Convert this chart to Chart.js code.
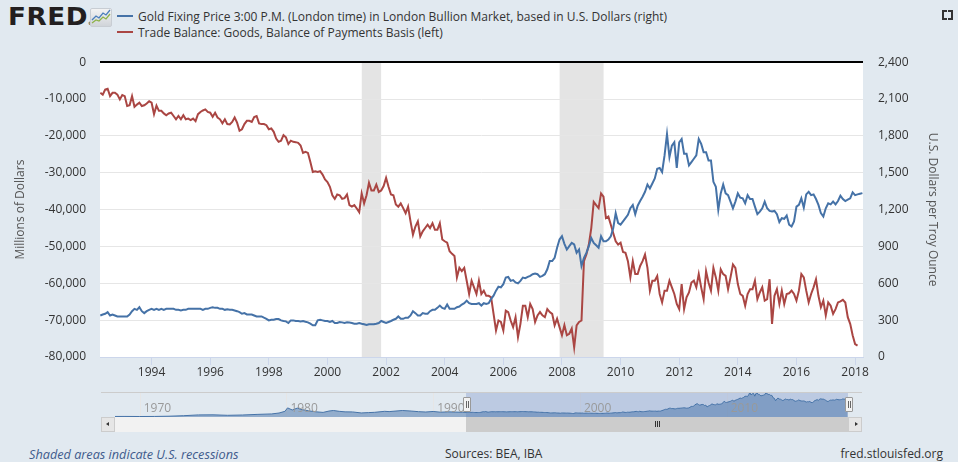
<!DOCTYPE html>
<html>
<head>
<meta charset="utf-8">
<script src="https://cdn.jsdelivr.net/npm/chart.js@4.4.1/dist/chart.umd.min.js"></script>
<style>
  html, body { margin: 0; padding: 0; }
  body {
    width: 958px; height: 462px; position: relative; overflow: hidden;
    background: #e1e9f0; font-family: 'Open Sans', sans-serif; color: #333;
  }
  .abs { position: absolute; }
  #logo {
    left: 8px; top: 1px; font-family: 'DejaVu Sans', sans-serif; font-weight: bold;
    font-size: 25px; line-height: 32px; color: #231f20; letter-spacing: 0.5px;
    transform-origin: left center; transform: scaleX(1.05);
  }
  #logo .reg { font-size: 5px; letter-spacing: 0; vertical-align: baseline; }
  .legend { left: 138px; font-size: 12px; line-height: 16px; white-space: nowrap; color: #333; }
  .swatch { left: 117px; width: 16px; height: 2px; }
  .corner { width: 3px; height: 3px; border: 0 solid #333; }
  .foot { top: 446px; font-size: 12px; line-height: 16px; white-space: nowrap; color: #333; }
  #navLine { left: 101px; top: 392px; width: 761px; height: 1px; background: #cccccc; z-index: 2; }
  .handle {
    top: 397px; width: 8px; height: 15px; box-sizing: border-box;
    background: #f2f2f2; border: 1px solid #999; border-radius: 1px; z-index: 3;
  }
  .handle .grip { top: 3px; width: 1px; height: 7px; background: #666; }
  .sbtn { top: 417px; width: 14px; height: 15px; box-sizing: border-box; background: #e6e6e6; border: 1px solid #cccccc; }
</style>
</head>
<body>
<div id="logo" class="abs">FRED<span class="reg">&reg;</span></div>
<svg class="abs" style="left:90px;top:8px" width="22" height="19" viewBox="0 0 22 19">
  <defs>
    <linearGradient id="ig" x1="0" y1="0" x2="0" y2="1">
      <stop offset="0" stop-color="#f4f4f4"/>
      <stop offset="1" stop-color="#cfd3d8"/>
    </linearGradient>
  </defs>
  <rect x="0.5" y="0.5" width="21" height="18" rx="1.5" fill="url(#ig)" stroke="#c8cdd3"/>
  <polyline points="2,12 6,8 9,10 13,5 16,7 20,2" fill="none" stroke="#4a7ebb" stroke-width="1.3"/>
  <polyline points="2,15 6,12 9,13 13,9 16,11 20,6" fill="none" stroke="#8db24a" stroke-width="1.3"/>
</svg>

<div class="abs swatch" style="top:15px;background:#4572a7"></div>
<div class="abs legend" style="top:9px">Gold Fixing Price 3:00 P.M. (London time) in London Bullion Market, based in U.S. Dollars (right)</div>
<div class="abs swatch" style="top:31px;background:#aa4643"></div>
<div class="abs legend" style="top:25px">Trade Balance: Goods, Balance of Payments Basis (left)</div>

<div class="abs corner" style="left:942px;top:10px;border-top-width:2px;border-left-width:2px"></div>
<div class="abs corner" style="left:948px;top:10px;border-top-width:2px;border-right-width:2px"></div>
<div class="abs corner" style="left:942px;top:15px;border-bottom-width:2px;border-left-width:2px"></div>
<div class="abs corner" style="left:948px;top:15px;border-bottom-width:2px;border-right-width:2px"></div>

<canvas id="main" class="abs" style="left:0;top:40px" width="958" height="345"></canvas>

<div id="navLine" class="abs"></div>
<canvas id="nav" class="abs" style="left:115px;top:392px" width="733" height="25"></canvas>
<div class="abs handle" style="left:463px"><div class="abs grip" style="left:2px"></div><div class="abs grip" style="left:4px"></div></div>
<div class="abs handle" style="left:845px"><div class="abs grip" style="left:2px"></div><div class="abs grip" style="left:4px"></div></div>

<div class="abs" style="left:101px;top:417px;width:761px;height:15px;background:#f2f2f2"></div>
<div class="abs" style="left:466px;top:417px;width:382px;height:15px;background:#cccccc"></div>
<div class="abs" style="left:655px;top:421px;width:1px;height:6px;background:#333"></div>
<div class="abs" style="left:657px;top:421px;width:1px;height:6px;background:#333"></div>
<div class="abs" style="left:659px;top:421px;width:1px;height:6px;background:#333"></div>
<div class="abs sbtn" style="left:101px"></div>
<div class="abs" style="left:106px;top:422px;width:0;height:0;border-top:2.5px solid transparent;border-bottom:2.5px solid transparent;border-right:3px solid #333"></div>
<div class="abs sbtn" style="left:848px"></div>
<div class="abs" style="left:855px;top:422px;width:0;height:0;border-top:2.5px solid transparent;border-bottom:2.5px solid transparent;border-left:3px solid #333"></div>

<div class="abs foot" style="left:29px;font-style:italic;font-size:12.7px;color:#3f5b8c">Shaded areas indicate U.S. recessions</div>
<div class="abs foot" style="left:445px">Sources: BEA, IBA</div>
<div class="abs foot" style="right:15px">fred.stlouisfed.org</div>

<script>
// ---- chart values -----------------------------------------------------------
const viewRange = [1992.24, 2018.27]
const xTickYears = [1994, 1996, 1998, 2000, 2002, 2004, 2006, 2008, 2010, 2012, 2014, 2016, 2018]
const recessions = [[2001.17, 2001.83], [2007.92, 2009.42]]

// monthly, starting April 1992 (millions of dollars)
const tradeStart = 1992 + 3 / 12
const tradeBalance = [
  -8300, -8800, -7400, -7200, -9200, -8300, -8300, -8800, -10100, -8900,
  -9200, -11900, -11700, -9200, -12100, -11500, -11000, -11900, -11700, -11200,
  -10600, -11000, -14100, -11800, -13200, -13200, -13900, -14400, -13900, -13700,
  -14600, -15500, -14600, -15500, -14400, -15500, -15300, -15700, -15300, -16000,
  -14100, -13500, -13100, -12800, -13500, -13700, -14800, -13700, -15000, -15500,
  -16600, -15500, -16800, -16900, -16200, -15000, -16400, -18600, -18200, -16800,
  -15900, -15900, -16200, -14900, -14600, -16600, -16800, -16800, -17100, -18200,
  -18000, -18900, -20700, -21600, -21300, -19800, -20400, -22200, -21300, -21600,
  -21700, -21900, -22600, -24600, -24300, -24600, -27100, -29800, -29600, -29800,
  -29600, -30500, -31800, -32500, -33800, -36100, -37100, -35900, -36100, -37100,
  -36900, -35900, -38800, -39200, -38800, -39700, -40700, -35600, -38300, -36100,
  -32700, -34800, -34800, -33200, -35200, -34800, -33600, -31400, -33800, -35900,
  -36100, -38600, -39200,
  -38300, -39600, -41000, -39200, -43200, -46800, -44600, -43200, -47300, -45900,
  -45000, -44100, -45000, -43700, -45500, -45500, -43700, -48100, -48600, -49000,
  -51300, -52000, -52600, -58400, -55800, -56700, -55800, -59300, -62900, -59300,
  -61100, -62900, -59300, -62900, -62000, -63400, -63400, -63800, -68300, -72800,
  -70100, -70500, -72800, -67400, -67800, -70100, -71900, -69200, -74600, -71000,
  -66100, -66100, -69200, -65600, -67000, -70500, -68700, -67800, -68700, -69200,
  -67000, -67800, -68300, -71400, -69600, -71900, -74100, -71400, -74100, -73700,
  -72300, -77400, -71400, -70500, -70100, -54000, -52200, -49500, -45000, -37900,
  -38800, -39600, -35600, -36500, -42300, -41900, -44100, -46400, -48600, -49500,
  -49000, -51500, -51700, -54000, -58400, -54000, -57500, -57500, -55300, -54000,
  -52200, -55800, -62000,
  -59300, -59300, -58000, -62900, -65200, -62000, -62000, -59300, -61100, -62900,
  -65600, -67000, -60200, -67000, -63800, -62500, -59800, -59300, -61100, -57500,
  -61100, -64300, -56700, -59800, -62000, -55800, -58400, -62000, -56200, -57500,
  -58000, -61600, -58400, -54900, -55800, -60200, -62900, -63400, -66100, -62900,
  -61600, -61600, -59300, -64300, -62500, -61100, -64700, -64300, -58900, -71000,
  -63400, -61600, -65600, -62000, -65600, -62900, -62700, -62000, -62900, -64700,
  -62000, -57500, -58400, -62000, -65200, -62900, -61100, -58900, -63400, -66500,
  -64700, -68700, -65200, -66100, -68300, -67000, -65200, -64900, -64500, -65200,
  -69200, -71000, -74100, -76500, -76900
]

// monthly, starting April 1992 (U.S. dollars per troy ounce)
const goldStart = 1992 + 3 / 12
const goldPrice = [
  338, 346, 352, 365, 338, 346, 338, 330, 330, 330, 330,
  330, 346, 373, 392, 384, 405, 373, 357, 373, 384,
  392, 384, 392, 384, 392, 384, 392, 392, 392, 392,
  384, 384, 379, 384, 384, 392, 392, 392, 392, 392,
  392, 384, 392, 392, 400, 405, 400, 400, 392, 392,
  384, 389, 384, 384, 379, 373, 365, 352, 357, 346, 346,
  346, 338, 330, 330, 330, 320, 311, 298, 303, 303,
  309, 309, 298, 293, 290, 277, 298, 298, 293, 293,
  290, 293, 287, 282, 271, 258, 258, 298, 303, 298,
  293, 293, 285, 293, 277, 277, 285, 282, 277, 282, 280,
  277, 271, 271, 277, 271, 266, 260, 266, 266, 266,
  271, 277, 293, 285, 277, 285, 293, 303, 311, 330,
  311, 311, 320, 320, 338, 373, 357, 338, 338, 357,
  352, 352, 373, 384, 384, 400, 419, 400, 392, 427,
  392, 392, 392, 405, 411, 427, 438, 459, 438, 432,
  432, 432, 438, 419, 438, 432, 438, 473, 499, 540,
  572, 567, 593, 647, 652, 620, 626, 607, 599, 620,
  647, 642, 652, 661, 674, 679, 674, 652, 661, 674,
  714, 781, 781, 808, 889, 956, 983, 921, 875, 902,
  929, 916, 848, 875, 741, 808, 848, 902, 969, 929,
  910, 889, 983, 942, 942, 956, 983, 1050, 1171, 1090,
  1077, 1104, 1130, 1157, 1211, 1238, 1163, 1232, 1270, 1305,
  1345, 1404, 1372,
  1412, 1453, 1533, 1539, 1506, 1641, 1815, 1627, 1721, 1748,
  1539, 1748, 1775, 1654, 1654, 1560, 1587, 1614, 1641, 1775,
  1735, 1667, 1667, 1600, 1600, 1426, 1385, 1198, 1332, 1404,
  1332, 1318, 1265, 1211, 1265, 1332, 1297, 1292, 1251, 1318,
  1286, 1286, 1224, 1163, 1184, 1211, 1265, 1211, 1189, 1184,
  1189, 1163, 1098, 1130, 1125, 1152, 1077, 1063, 1104, 1224,
  1238, 1292, 1216, 1324, 1345, 1318, 1324, 1286, 1238, 1171,
  1144, 1211, 1251, 1243, 1265, 1243, 1270, 1313, 1286, 1270,
  1281, 1292, 1340, 1318, 1324, 1329, 1334
]

// navigator: the gold series before the visible window
const navHistYears = [1968.3, 1969, 1970, 1971, 1972, 1973, 1974, 1975, 1976, 1977, 1978, 1979,
  1979.5, 1979.9, 1980.08, 1980.4, 1980.75, 1981, 1981.5, 1982, 1982.5, 1982.9, 1983.2, 1983.6,
  1984, 1984.5, 1985.1, 1985.6, 1986, 1986.7, 1987, 1987.9, 1988.5, 1989, 1989.5, 1990, 1990.5,
  1991, 1991.5, 1992]
const navHistGold = [40, 42, 36, 41, 58, 97, 154, 160, 125, 148, 193, 227,
  296, 420, 675, 520, 660, 560, 460, 385, 340, 440, 480, 420,
  380, 375, 300, 325, 345, 420, 400, 480, 440, 395, 370, 410, 355,
  380, 365, 350]
const navRange = [1968.32, 2018.27]
const navTickYears = [1970, 1980, 1990, 2000, 2010]

// ---- helpers ---------------------------------------------------------------
const BLUE = '#4572a7'
const RED = '#aa4643'
const tickFont = { family: "'Open Sans', sans-serif", size: 12 }

function monthlyPoints (start, values) {
  return values.map((v, i) => ({ x: start + i / 12, y: v }))
}

Chart.defaults.font.family = "'Open Sans', sans-serif"
Chart.defaults.color = '#333'

// white plot area + recession bands, drawn under the grid
const plotBackground = {
  id: 'plotBackground',
  beforeDraw (chart) {
    const { ctx, chartArea: a, scales: { x } } = chart
    ctx.save()
    ctx.fillStyle = '#ffffff'
    ctx.fillRect(a.left, a.top, a.right - a.left, a.bottom - a.top)
    ctx.fillStyle = '#e4e4e4'
    recessions.forEach(([from, to]) => {
      const x0 = x.getPixelForValue(from)
      const x1 = x.getPixelForValue(to)
      ctx.fillRect(x0, a.top, x1 - x0, a.bottom - a.top)
    })
    ctx.restore()
  }
}

new Chart(document.getElementById('main'), {
  type: 'line',
  data: {
    datasets: [
      {
        label: 'Gold Fixing Price 3:00 P.M. (London time) in London Bullion Market, based in U.S. Dollars (right)',
        data: monthlyPoints(goldStart, goldPrice),
        yAxisID: 'yGold',
        borderColor: BLUE,
        borderWidth: 2,
        pointRadius: 0,
        tension: 0
      },
      {
        label: 'Trade Balance: Goods, Balance of Payments Basis (left)',
        data: monthlyPoints(tradeStart, tradeBalance),
        yAxisID: 'yTrade',
        borderColor: RED,
        borderWidth: 2,
        pointRadius: 0,
        tension: 0
      }
    ]
  },
  options: {
    responsive: false,
    animation: false,
    events: [],
    layout: { padding: { top: 19, left: 0, right: 0, bottom: 0 } },
    plugins: { legend: { display: false }, tooltip: { enabled: false } },
    scales: {
      x: {
        type: 'linear',
        min: viewRange[0],
        max: viewRange[1],
        afterBuildTicks: (scale) => { scale.ticks = xTickYears.map(v => ({ value: v })) },
        afterFit: (scale) => { scale.height = 28 },
        grid: { drawOnChartArea: false, drawTicks: true, tickLength: 8, color: '#ccd6eb' },
        border: { display: true, color: '#ccd6eb' },
        ticks: { padding: 0, color: '#333', font: tickFont, maxRotation: 0, autoSkip: false, callback: v => String(v) }
      },
      yTrade: {
        position: 'left',
        min: -80000,
        max: 0,
        afterFit: (scale) => { scale.width = 100 },
        ticks: { stepSize: 10000, padding: 14, color: '#333', font: tickFont, callback: v => v.toLocaleString('en-US') },
        grid: {
          drawTicks: false,
          color: ctx => (ctx.tick && ctx.tick.value === 0 ? '#000000' : '#e6e6e6'),
          lineWidth: ctx => (ctx.tick && ctx.tick.value === 0 ? 2 : 1)
        },
        border: { display: false },
        title: { display: true, text: 'Millions of Dollars', color: '#555', font: tickFont, padding: { top: 13.5, bottom: 0 } }
      },
      yGold: {
        position: 'right',
        min: 0,
        max: 2400,
        afterFit: (scale) => { scale.width = 95 },
        ticks: { stepSize: 300, padding: 15, color: '#333', font: tickFont, callback: v => v.toLocaleString('en-US') },
        grid: { display: false, drawTicks: false },
        border: { display: false },
        title: { display: true, text: 'U.S. Dollars per Troy Ounce', color: '#555', font: tickFont, padding: { top: 18, bottom: 0 } }
      }
    }
  },
  plugins: [plotBackground]
})

// ---- navigator ---------------------------------------------------------------
const navDecor = {
  id: 'navDecor',
  beforeDatasetsDraw (chart) {
    const { ctx, chartArea: a, scales: { x } } = chart
    ctx.save()
    ctx.strokeStyle = '#e6e6e6'
    ctx.lineWidth = 1
    navTickYears.forEach(year => {
      const px = Math.round(x.getPixelForValue(year)) + 0.5
      ctx.beginPath()
      ctx.moveTo(px, a.top)
      ctx.lineTo(px, a.bottom)
      ctx.stroke()
    })
    const m0 = x.getPixelForValue(viewRange[0])
    const m1 = x.getPixelForValue(viewRange[1])
    ctx.fillStyle = 'rgba(102,133,194,0.3)'
    ctx.fillRect(m0, a.top, m1 - m0, a.bottom - a.top)
    ctx.restore()
  },
  afterDatasetsDraw (chart) {
    const { ctx, scales: { x } } = chart
    ctx.save()
    ctx.fillStyle = '#999999'
    ctx.font = "12px 'Open Sans', sans-serif"
    ctx.textBaseline = 'middle'
    navTickYears.forEach(year => {
      ctx.fillText(String(year), x.getPixelForValue(year) + 4, 17)
    })
    ctx.restore()
  }
}

const navPoints = navHistYears.map((yr, i) => ({ x: yr, y: navHistGold[i] }))
  .concat(monthlyPoints(goldStart, goldPrice))

new Chart(document.getElementById('nav'), {
  type: 'line',
  data: {
    datasets: [{
      data: navPoints,
      borderColor: BLUE,
      borderWidth: 1,
      backgroundColor: 'rgba(69,114,167,0.5)',
      fill: 'start',
      pointRadius: 0,
      tension: 0
    }]
  },
  options: {
    responsive: false,
    animation: false,
    events: [],
    layout: { padding: 0 },
    plugins: { legend: { display: false }, tooltip: { enabled: false } },
    scales: {
      x: { type: 'linear', display: false, min: navRange[0], max: navRange[1] },
      y: { display: false, min: 0, max: 1850 }
    }
  },
  plugins: [navDecor]
})
</script>
</body>
</html>
